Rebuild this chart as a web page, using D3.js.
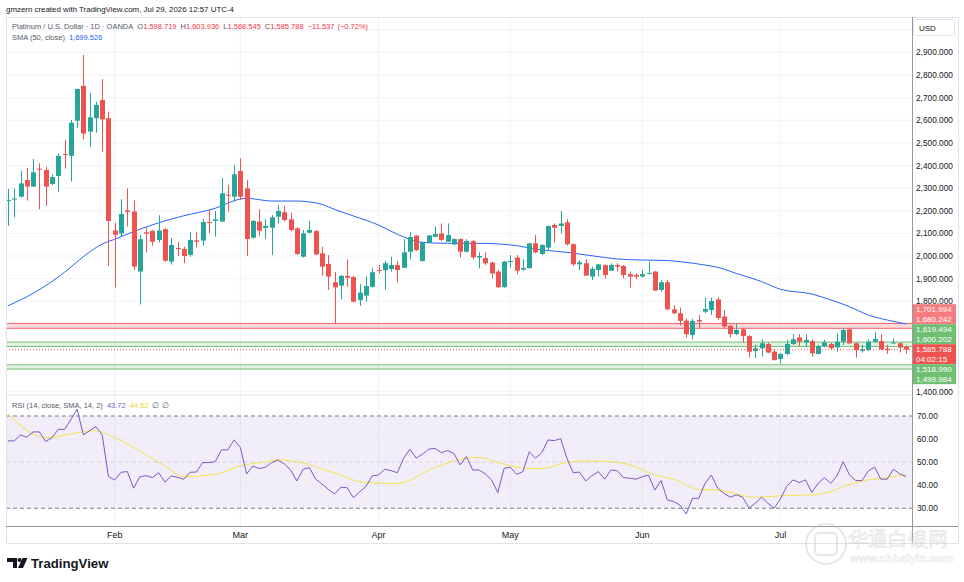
<!DOCTYPE html>
<html><head><meta charset="utf-8">
<script src="https://cdn.jsdelivr.net/npm/d3@7"></script>
<style>
body{margin:0;background:#fff}
svg{display:block}
text{font-family:"Liberation Sans",Arial,sans-serif}
</style>
</head><body>
<svg id="c" width="964" height="582"></svg>
<script>
// ---------- DATA ----------
const monthLabels = ["Feb","Mar","Apr","May","Jun","Jul"];
const monthIndex  = [17, 37, 59, 80, 101, 123];

const open = [2245,2252,2262,2336,2307,2386,2380,2318,2354,2451,2443,2598,2752,2550,2609,2690,2609,2113,2100,2202,
2197,1931,2105,2111,2071,2119,1975,2035,2031,2005,2069,2068,2150,2155,2152,2271,2262,2376,2299,2081,
2152,2124,2125,2174,2194,2162,2122,1997,2103,2110,2012,1965,1884,1869,1912,1907,1805,1825,1864,1938,
1937,1942,1960,1948,2019,2090,1978,2059,2085,2100,2063,2051,2075,2019,2066,1993,1991,1971,1931,1862,
1973,1993,1940,1946,2056,2009,2037,2137,2133,2149,2052,1963,1968,1909,1938,1960,1935,1960,1956,1920,
1916,1909,1922,1931,1850,1884,1764,1747,1714,1651,1717,1754,1761,1808,1732,1691,1655,1676,1646,1580,
1592,1611,1577,1545,1567,1611,1640,1618,1624,1567,1602,1611,1596,1621,1676,1614,1580,1584,1621,1624,
1590,1614,1614,1598.719];
const high = [2296,2299,2376,2389,2429,2410,2395,2361,2454,2513,2601,2741,2889,2722,2682,2782,2638,2147,2251,2299,
2246,2093,2127,2115,2180,2122,2080,2062,2041,2105,2105,2164,2203,2199,2345,2314,2402,2432,2336,2159,
2206,2162,2181,2225,2222,2191,2127,2115,2155,2115,2041,2004,1929,1916,1985,1912,1876,1909,1948,1960,
1978,1997,1978,2074,2105,2093,2063,2093,2130,2144,2144,2078,2078,2074,2071,2016,2016,1975,1938,1978,
2004,2004,1987,2059,2093,2052,2133,2144,2199,2164,2056,1982,1987,1953,1965,1963,1968,1968,1960,1931,
1923,1938,1975,1934,1894,1894,1783,1772,1724,1722,1739,1816,1816,1817,1761,1695,1702,1680,1651,1607,
1632,1617,1587,1570,1629,1655,1655,1655,1632,1607,1629,1617,1658,1683,1680,1617,1607,1632,1665,1655,
1607,1636,1618,1603.936];
const low = [2134,2171,2258,2245,2305,2206,2222,2314,2284,2386,2329,2567,2516,2483,2545,2461,1957,1861,2085,2130,
1938,1786,2015,2046,2060,1975,1962,2000,1968,1997,2038,2046,2100,2085,2152,2196,2240,2248,2000,2077,
2088,2075,2004,2144,2152,2110,2004,1993,2100,2004,1912,1850,1699,1808,1864,1794,1780,1798,1860,1923,
1850,1931,1884,1947,1985,2022,1975,2056,2082,2066,2063,2049,1993,2016,1985,1945,1960,1901,1860,1860,
1948,1920,1935,1946,2012,2004,2022,2060,2100,2046,1956,1938,1913,1894,1909,1901,1934,1931,1901,1860,
1897,1904,1919,1845,1842,1761,1742,1692,1639,1632,1680,1747,1739,1716,1680,1640,1651,1617,1551,1548,
1555,1570,1537,1525,1562,1607,1602,1596,1555,1565,1596,1587,1577,1607,1611,1551,1573,1581,1618,1584,
1567,1611,1574,1568.545];
const close = [2247,2254,2321,2307,2370,2382,2307,2349,2443,2447,2589,2738,2541,2613,2668,2604,2155,2094,2186,2195,
1953,2074,2099,2063,2113,1979,2049,2031,2000,2071,2063,2150,2146,2162,2277,2267,2361,2262,2075,2155,
2112,2133,2171,2199,2159,2115,2009,2100,2115,2007,1953,1909,1861,1912,1904,1798,1838,1867,1928,1934,
1968,1960,1938,2016,2084,2026,2059,2091,2097,2071,2093,2075,2019,2066,1994,2000,1968,1923,1862,1975,
1978,1935,1947,2056,2016,2049,2133,2125,2144,2052,1963,1972,1913,1943,1963,1916,1960,1953,1916,1909,
1909,1920,1925,1847,1884,1764,1747,1713,1654,1713,1710,1766,1801,1726,1688,1655,1673,1646,1577,1592,
1614,1573,1540,1567,1611,1632,1621,1629,1570,1602,1618,1592,1621,1673,1614,1584,1587,1621,1633,1587,
1584,1618,1595,1585.788];
const change = -11.537;
const changePct = -0.72;

// SMA(50): [bar index, value]
const smaPoints = [[0,1780],[4,1835],[9,1928],[12,1997],[15,2053],[17,2074],[20,2108],[24,2147],[28,2178],[33,2211],
[37,2252],[38,2255],[42,2243],[46,2243],[50,2228],[52,2206],[55,2177],[59,2137],[62,2096],[64,2074],[66,2060],
[70,2056],[75,2056],[80,2049],[85,2027],[89,2016],[93,2001],[97,1987],[101,1982],[104,1981],[107,1975],
[111,1960],[113,1950],[116,1923],[120,1887],[123,1853],[128,1832],[131,1806],[134,1776],[137,1739],[140,1717],[143,1699.526]];

const rsi = [59.2,59.2,61.8,60.8,63.1,63.1,58.9,60.6,64.2,64.2,68.3,73.0,61.8,63.6,65.4,61.8,43.7,42.3,45.6,45.9,
38.7,43.7,44.1,43.3,45.4,41.3,44.0,43.4,42.6,45.6,45.7,49.8,49.8,50.2,55.3,55.3,59.6,56.4,44.9,48.3,
47.2,47.8,49.8,50.9,49.2,46.6,41.8,46.9,47.6,42.6,40.5,38.2,36.2,39.1,38.9,34.6,37.1,39.4,44.0,44.4,
46.9,46.3,45.4,51.7,55.6,51.7,53.5,55.6,56.0,54.1,55.0,53.8,48.8,52.4,46.6,46.6,44.9,42.3,36.8,47.3,
47.8,44.7,45.9,54.5,51.7,54.1,59.6,59.3,60.2,51.7,45.4,45.7,41.8,44.1,45.9,42.6,46.6,46.3,43.3,43.0,
42.6,43.7,44.4,37.9,42.0,33.6,32.9,31.4,27.5,34.3,34.3,40.8,44.4,38.7,36.5,34.8,35.8,34.8,30.0,32.2,
34.8,32.2,30.0,34.0,39.4,42.3,41.1,42.3,36.9,40.8,43.3,40.8,44.0,50.2,44.4,42.0,42.0,46.2,47.8,42.6,
42.6,46.9,44.9,43.72];

// RSI-based MA: [bar index, value]
const rsiMaPoints = [[0,70.9],[6,60.6],[12,63.1],[14,63.6],[16,61.8],[21,54.8],[25,48.3],[28,43.7],[33,44.7],[37,48.3],
[41,50.1],[43,50.9],[46,50.2],[52,45.2],[57,41.1],[62,40.8],[68,47.6],[73,51.7],[75,52.1],[78,49.8],[83,47.3],
[85,47.3],[89,49.8],[91,50.5],[96,50.2],[99,48.8],[103,44.4],[106,42.6],[110,38.2],[113,37.9],[119,34.8],
[123,35.4],[128,35.8],[131,37.2],[133,39.4],[137,42.3],[139,43.0],[143,44.52]];

const priceTicks = [1400,1500,1600,1700,1800,1900,2000,2100,2200,2300,2400,2500,2600,2700,2800,2900];
const priceGrid  = [1400,1500,1600,1700,1800,1900,2000,2100,2200,2300,2400,2500,2600,2700,2800,2900,3000];
const rsiTicks = [30,40,50,60,70];
const zoneHi = [1701.994, 1619.494, 1518.990];
const zoneLo = [1680.242, 1600.202, 1499.984];
const zoneKind = ["red","green","green"];
const lastPrice = 1585.788;
const countdown = "04:02:15";

// ---------- LAYOUT ----------
const L=6, R=958, AX=912, TOP=17, SEP=395, XAX=526, BOT=543;
const UP="#26a69a", DN="#ef5350";
const svg = d3.select("#c");
svg.append("rect").attr("width",964).attr("height",582).attr("fill","#fff");

const n = close.length;
const x = d3.scaleLinear().domain([0, n-1]).range([8, 906]);
const y = d3.scaleLinear().domain([1385.5, 3056.6]).range([SEP, TOP]);
const yr = d3.scaleLinear().domain([22.3, 79.1]).range([XAX, SEP]);

const fmt = d3.format(",.3f");

// grid
const g = svg.append("g");
g.selectAll(".hg").data(priceGrid).join("line")
 .attr("x1",L).attr("x2",AX).attr("y1",d=>y(d)).attr("y2",d=>y(d))
 .attr("stroke","#f0f3fa").attr("stroke-width",1);
g.selectAll(".vg").data(monthIndex).join("line")
 .attr("x1",d=>x(d)).attr("x2",d=>x(d)).attr("y1",TOP).attr("y2",XAX)
 .attr("stroke","#f0f3fa").attr("stroke-width",1);

// RSI background band & lines
g.append("rect").attr("x",L).attr("width",AX-L).attr("y",yr(70)).attr("height",yr(30)-yr(70))
 .attr("fill","rgba(126,87,194,0.1)");
[60,40].forEach(v=>g.append("line").attr("x1",L).attr("x2",AX).attr("y1",yr(v)).attr("y2",yr(v))
 .attr("stroke","#ebe7f5").attr("stroke-width",1));
[70,30].forEach(v=>g.append("line").attr("x1",L).attr("x2",AX).attr("y1",yr(v)).attr("y2",yr(v))
 .attr("stroke","#787b86").attr("stroke-dasharray","4,3").attr("stroke-width",1));
g.append("line").attr("x1",L).attr("x2",AX).attr("y1",yr(50)).attr("y2",yr(50))
 .attr("stroke","#d6d3de").attr("stroke-dasharray","4,3").attr("stroke-width",1);

// zones
zoneHi.forEach((hi,i)=>{
  const c = zoneKind[i]==="red" ? "#f23645" : "#4caf50";
  const f = zoneKind[i]==="red" ? "rgba(242,54,69,0.18)" : "rgba(76,175,80,0.15)";
  g.append("rect").attr("x",L).attr("width",AX-L).attr("y",y(hi)).attr("height",y(zoneLo[i])-y(hi)).attr("fill",f);
  [hi, zoneLo[i]].forEach(v=>g.append("line").attr("x1",L).attr("x2",AX).attr("y1",y(v)).attr("y2",y(v))
    .attr("stroke",c).attr("stroke-opacity",0.75).attr("stroke-width",1));
});

// SMA
svg.append("path").datum(smaPoints)
 .attr("d", d3.line().x(d=>x(d[0])).y(d=>y(d[1])).curve(d3.curveMonotoneX))
 .attr("fill","none").attr("stroke","#2962ff").attr("stroke-width",1);

// candles
const idx = d3.range(n);
const cg = svg.append("g");
cg.selectAll(".w").data(idx).join("line")
 .attr("x1",i=>Math.round(x(i))+0.5).attr("x2",i=>Math.round(x(i))+0.5)
 .attr("y1",i=>y(high[i])).attr("y2",i=>y(low[i]))
 .attr("stroke",i=>close[i]>=open[i]?UP:DN).attr("stroke-width",1);
const bw = 5;
cg.selectAll(".b").data(idx).join("rect")
 .attr("x",i=>Math.round(x(i))+0.5-bw/2).attr("width",bw)
 .attr("y",i=>y(Math.max(open[i],close[i])))
 .attr("height",i=>Math.max(1, Math.abs(y(open[i])-y(close[i]))))
 .attr("fill",i=>close[i]>=open[i]?UP:DN);

// current price dotted line
svg.append("line").attr("x1",L).attr("x2",AX).attr("y1",y(lastPrice)).attr("y2",y(lastPrice))
 .attr("stroke",DN).attr("stroke-dasharray","1,2").attr("stroke-width",1);

// RSI lines
svg.append("path").datum(rsiMaPoints)
 .attr("d", d3.line().x(d=>x(d[0])).y(d=>yr(d[1])).curve(d3.curveMonotoneX))
 .attr("fill","none").attr("stroke","#f7e34f").attr("stroke-width",1);
svg.append("path").datum(rsi)
 .attr("d", d3.line().x((d,i)=>x(i)).y(d=>yr(d)))
 .attr("fill","none").attr("stroke","#7e57c2").attr("stroke-width",1);

// frame, separators, axes lines
svg.append("line").attr("x1",L).attr("x2",AX).attr("y1",SEP).attr("y2",SEP).attr("stroke","#e0e3eb");
svg.append("rect").attr("x",L+0.5).attr("y",TOP+0.5).attr("width",R-L).attr("height",BOT-TOP)
 .attr("fill","none").attr("stroke","#e0e3eb");
svg.append("rect").attr("x",L+1).attr("y",XAX+1).attr("width",R-L-1).attr("height",BOT-XAX-1).attr("fill","#fff");
svg.append("rect").attr("x",AX+1).attr("y",TOP+1).attr("width",R-AX-1).attr("height",BOT-TOP-1).attr("fill","#fff");
svg.append("line").attr("x1",AX+0.5).attr("x2",AX+0.5).attr("y1",TOP).attr("y2",BOT).attr("stroke","#9598a1");
svg.append("line").attr("x1",L).attr("x2",R).attr("y1",XAX+0.5).attr("y2",XAX+0.5).attr("stroke","#9598a1");

// x labels
svg.selectAll(".xl").data(monthIndex).join("text")
 .attr("x",d=>x(d)).attr("y",538).attr("text-anchor","middle")
 .attr("font-size",9).attr("fill","#131722").text((d,i)=>monthLabels[i]);

// right-side value labels, stacked to avoid overlap
const BH = 20;
const blocks = [
  {lines:[fmt(zoneHi[0]),fmt(zoneLo[0])], v:zoneHi[0], col:"#f77c80"},
  {lines:[fmt(zoneHi[1]),fmt(zoneLo[1])], v:zoneHi[1], col:"#6fbf73"},
  {lines:[fmt(lastPrice),countdown], v:lastPrice, col:"#ef5350", anchor:true},
  {lines:[fmt(zoneHi[2]),fmt(zoneLo[2])], v:zoneHi[2], col:"#6fbf73"}
];
const ai = blocks.findIndex(b=>b.anchor);
blocks[ai].top = y(blocks[ai].v) - 5.5;
for (let i=ai-1;i>=0;i--) blocks[i].top = Math.min(y(blocks[i].v)-5.5, blocks[i+1].top-BH);
for (let i=ai+1;i<blocks.length;i++) blocks[i].top = Math.max(y(blocks[i].v)-5.5, blocks[i-1].top+BH);
const covered = v => blocks.some(b => y(v)+2 > b.top && y(v)-2 < b.top+BH);

// price axis labels (those hidden under value labels are skipped)
svg.selectAll(".pl").data(priceTicks.filter(v=>!covered(v))).join("text")
 .attr("x",916).attr("y",d=>y(d)+3).attr("font-size",8.3).attr("fill","#131722").text(d=>fmt(d));
svg.selectAll(".rl").data(rsiTicks).join("text")
 .attr("x",917).attr("y",d=>yr(d)+3).attr("font-size",8.3).attr("fill","#131722").text(d=>d.toFixed(2));

blocks.forEach(b=>{
  svg.append("rect").attr("x",AX+1).attr("y",b.top).attr("width",R-AX-3).attr("height",BH).attr("fill",b.col);
  b.lines.forEach((t,j)=>svg.append("text").attr("x",916).attr("y",b.top+8.2+j*9.8)
    .attr("font-size",8).attr("fill","#fff").text(t));
});

// USD box
svg.append("rect").attr("x",913.5).attr("y",19.5).attr("width",41).attr("height",16).attr("rx",2)
 .attr("fill","#fff").attr("stroke","#e0e3eb");
svg.append("text").attr("x",919).attr("y",30.5).attr("font-size",8).attr("fill","#131722").text("USD");

// header & legends
svg.append("text").attr("x",6).attr("y",12).attr("font-size",7.9).attr("fill","#131722").text("gmzern created with TradingView.com, Jul 29, 2026 12:57 UTC-4");
const FS = 7.5;
const l1 = svg.append("text").attr("x",12).attr("y",29).attr("font-size",FS).attr("fill","#555a66");
l1.append("tspan").text("Platinum / U.S. Dollar · 1D · OANDA");
[["O",open[n-1]],["H",high[n-1]],["L",low[n-1]],["C",close[n-1]]].forEach(([k,v],i)=>{
  l1.append("tspan").attr("dx", 4).text(k);
  l1.append("tspan").attr("fill","#f23645").text(fmt(v));
});
l1.append("tspan").attr("dx",4).attr("fill","#f23645").text("\u2212"+fmt(Math.abs(change)));
l1.append("tspan").attr("dx",3).attr("fill","#f23645").text("(\u2212"+Math.abs(changePct).toFixed(2)+"%)");
const l2 = svg.append("text").attr("x",12).attr("y",40).attr("font-size",FS).attr("fill","#555a66");
l2.append("tspan").text("SMA (50, close)");
l2.append("tspan").attr("dx",4).attr("fill","#2962ff").text(fmt(smaPoints[smaPoints.length-1][1]));
const l3 = svg.append("text").attr("x",12).attr("y",408).attr("font-size",FS).attr("fill","#555a66");
l3.append("tspan").text("RSI (14, close, SMA, 14, 2)");
l3.append("tspan").attr("dx",4).attr("fill","#7e57c2").text(rsi[n-1].toFixed(2));
l3.append("tspan").attr("dx",4).attr("fill","#e8d42a").text(rsiMaPoints[rsiMaPoints.length-1][1].toFixed(2));
l3.append("tspan").attr("dx",4).text("\u2205");
l3.append("tspan").attr("dx",3).text("\u2205");

// TradingView logo
const lg = svg.append("g").attr("fill","#131722");
lg.append("path").attr("d","M7,558 H17 V568 H13 V562 H7 Z");
lg.append("circle").attr("cx",19.5).attr("cy",560).attr("r",2);
lg.append("path").attr("d","M22.5,558 H27.5 L23,568 H18 Z");
svg.append("text").attr("x",31).attr("y",568).attr("font-size",13.2).attr("font-weight","bold")
 .attr("fill","#131722").text("TradingView");

// watermark
const wm = svg.append("g").attr("opacity",0.45);
wm.append("circle").attr("cx",826).attr("cy",544).attr("r",20).attr("fill","none").attr("stroke","#c8c8c8").attr("stroke-width",2);
wm.append("rect").attr("x",815).attr("y",533).attr("width",22).attr("height",22).attr("rx",4).attr("fill","none").attr("stroke","#c8c8c8").attr("stroke-width",2);
wm.append("text").attr("x",848).attr("y",546).attr("font-size",20).attr("font-family","'Noto Sans CJK SC'")
 .attr("fill","#fff").attr("stroke","#c8c8c8").attr("stroke-width",0.8).text("华通白银网");
wm.append("text").attr("x",850).attr("y",562).attr("font-size",11.5).attr("font-weight","bold")
 .attr("fill","#fff").attr("stroke","#c8c8c8").attr("stroke-width",0.6).text("www.chbaiyin.com");
</script>
</body></html>
